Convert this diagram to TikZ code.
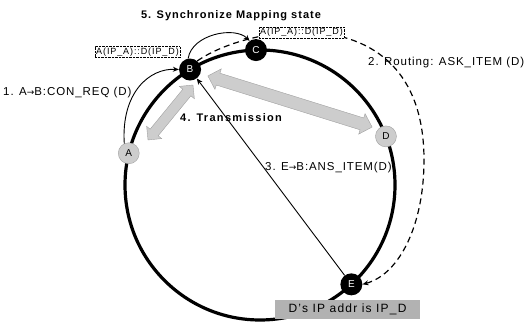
\documentclass[tikz,border=0pt]{standalone}
\usepackage{fontspec}
\setmainfont{Liberation Sans}
\newfontfamily\arrowfont{DejaVu Sans}
\usepackage{tikz}
\usetikzlibrary{shapes.arrows, arrows.meta, positioning, calc}
\definecolor{peergray}{RGB}{205,205,205}
\definecolor{peeredge}{RGB}{160,160,160}
\definecolor{notegray}{RGB}{178,178,178}
\newcommand{\msgto}{{\arrowfont\fontsize{9}{10}\selectfont →}}

\begin{document}
\begin{tikzpicture}[
    x=1pt, y=1pt,
    ring/.style={line width=3.2pt},
    peer/.style={circle, fill=black, text=white, minimum size=22pt, inner sep=0pt, font=\fontsize{10}{12}\selectfont},
    idle/.style={circle, fill=peergray, draw=peeredge, text=black, minimum size=21pt, inner sep=0pt, font=\fontsize{10}{12}\selectfont},
    msg/.style={inner sep=0pt, font=\fontsize{11.5}{13}\selectfont\addfontfeature{LetterSpace=8}},
    mapbox/.style={draw, densely dotted, fill=white, inner sep=1.2pt, font=\fontsize{9}{10}\selectfont\addfontfeature{LetterSpace=10}},
    notebox/.style={fill=notegray, minimum width=145pt, minimum height=19pt, inner sep=0pt, font=\fontsize{12}{14}\selectfont\addfontfeature{LetterSpace=10}},
    trans/.style={double arrow, fill=peergray, draw=peeredge, inner xsep=0pt, inner ysep=5pt, double arrow head extend=4.5pt},
    msgline/.style={-{Stealth[length=6pt,width=5pt]}, line width=0.9pt},
    routeline/.style={-{Stealth[length=6pt,width=5pt]}, line width=1.2pt, dash pattern=on 6pt off 4pt}
]
\useasboundingbox (0,0) rectangle (525,324);

% the ring
\coordinate (hub) at (260,139);
\draw[ring] (hub) circle[radius=135];

% peers on the ring
\node[idle] (A) at ($(hub)+(166.4:135)$) {A};
\node[peer] (B) at ($(hub)+(121.2:135)$) {B};
\node[peer] (C) at ($(hub)+(91.7:135)$) {C};
\node[idle] (D) at ($(hub)+(21.1:135)$) {D};
\node[peer] (E) at ($(hub)+(-47.4:135)$) {E};

% Transmission between A, B and D
\node[trans, minimum height=71pt, rotate=50.7] (ab) at (170.5,211.5) {};
\node[trans, minimum height=172pt, inner ysep=6pt, rotate=-17.3] (bd) at (290,222.5) {};

% Messages
\draw[msgline] (A.115) .. controls (121,232) and (150,256) .. (B.west);
\draw[msgline] (B.100) .. controls (192,290) and (235,298) .. (C.125);
\draw[routeline] (B.50) .. controls (250,300) and (424,330) .. (424,164)
    .. controls (424,100) and (400,50) .. (E.east);
\draw[msgline] (E) -- (B);

% Mapping tables
\node[mapbox] (mapb) at (137.5,272) {A(IP\_A)::D(IP\_D)};
\node[mapbox] (mapc) at (301.5,291.5) {A(IP\_A)::D(IP\_D)};
\node[notebox] (note) at (347.5,14.5) {D's IP addr is IP\_D};

% Step labels
\node[msg, font=\bfseries\fontsize{11}{13}\selectfont\addfontfeature{LetterSpace=9}] (sync) at (231,308) {5. Synchronize Mapping state};
\node[msg, anchor=west] (req) at (3,231) {1. A\msgto B:CON\_REQ (D)};
\node[msg, anchor=west] (route) at (368,261) {2. Routing: ASK\_ITEM (D)};
\node[msg, anchor=west] (ans) at (265,156) {3. E\msgto B:ANS\_ITEM(D)};
\node[msg, anchor=west, font=\bfseries\fontsize{11}{13}\selectfont\addfontfeature{LetterSpace=12}] (tx) at (180,206) {4. Transmission};
\end{tikzpicture}
\end{document}
